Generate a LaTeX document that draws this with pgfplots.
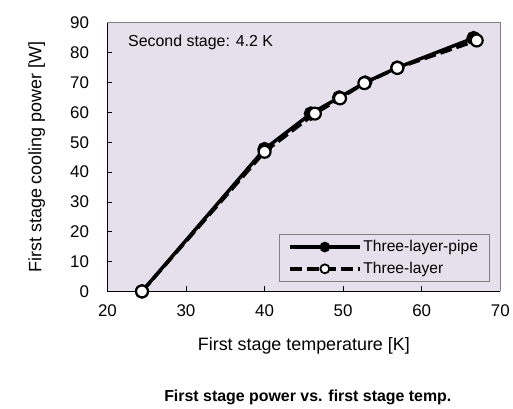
\documentclass[border=0pt]{standalone}
\usepackage{pgfplots}
\pgfplotsset{compat=1.18}
\usepackage{fontspec}
\setmainfont{Liberation Sans}
\usetikzlibrary{calc}
\definecolor{bg}{RGB}{229,224,236}
\definecolor{framegray}{RGB}{128,128,128}

\begin{document}
\begin{tikzpicture}
\begin{axis}[
  name=ax,
  scale only axis, width=395bp, height=270bp,
  xmin=20, xmax=70, ymin=0, ymax=90,
  xtick={20,30,...,70}, ytick={0,10,...,90},
  axis x line*=bottom, axis y line*=left,
  axis line style={-, line width=1.2bp, black},
  tick align=inside, major tick length=5bp,
  tick style={black, line width=0.8bp},
  axis background/.style={fill=bg},
  /pgf/number format/assume math mode=true,
  tick label style={font=\fontsize{17bp}{20bp}\selectfont},
  xticklabel style={yshift=-10bp},
  yticklabel style={xshift=-15bp},
  label style={font=\fontsize{18bp}{21bp}\selectfont},
  xlabel={First stage temperature [K]},
  ylabel={First stage cooling power [W]},
  xlabel style={at={(axis description cs:0.5,-0.204)}, anchor=center},
  ylabel style={at={(axis description cs:-0.18,0.5)}, anchor=center},
  legend style={at={(axis cs:68.6,3.3)}, anchor=south east, draw=framegray,
    fill=bg, line width=0.8bp, font=\fontsize{15.7bp}{18bp}\selectfont,
    inner xsep=9bp, inner ysep=4bp, row sep=5bp,
    nodes={inner sep=2bp}},
  legend cell align=left,
  legend image code/.code={\draw[mark repeat=2,mark phase=2,#1]
    plot coordinates {(0bp,0bp) (35bp,0bp) (70bp,0bp)};},
  clip=false,
]
\draw[framegray, line width=0.8bp] (rel axis cs:0,1) -- (rel axis cs:1,1) -- (rel axis cs:1,0);
\addplot[black, line width=3.5bp, mark=*, mark size=5.5bp,
  mark options={solid, fill=black},
  legend image post style={mark size=3.5bp}]
  coordinates {(24.4,0) (40.0,47.7) (45.9,59.6) (49.5,65.0) (52.8,70.0) (56.9,75.0) (66.6,84.9)};
\addlegendentry{Three-layer-pipe}
\addplot[black, line width=3.5bp, dash pattern=on 12bp off 5bp, mark=*, mark size=6bp,
  mark options={solid, fill=white, draw=black, line width=2.2bp},
  legend image post style={mark size=4.5bp, mark options={solid, fill=white, draw=black, line width=1.8bp}}]
  coordinates {(24.4,0) (40.0,46.8) (46.4,59.6) (49.6,64.7) (52.7,69.8) (56.9,74.9) (67.0,84.1)};
\addlegendentry{Three-layer}
\node[anchor=west, font=\fontsize{16bp}{19bp}\selectfont] at (axis cs:22.2,83.3) {Second stage: 4.2 K};
\end{axis}
\node[font=\fontsize{16bp}{19bp}\selectfont\bfseries] at ($(ax.south)+(4bp,-107bp)$) {First stage power vs. first stage temp.};
\path ($(ax.south west)+(-108bp,-114bp)$) rectangle ($(ax.north east)+(10bp,23bp)$);
\end{tikzpicture}
\end{document}
